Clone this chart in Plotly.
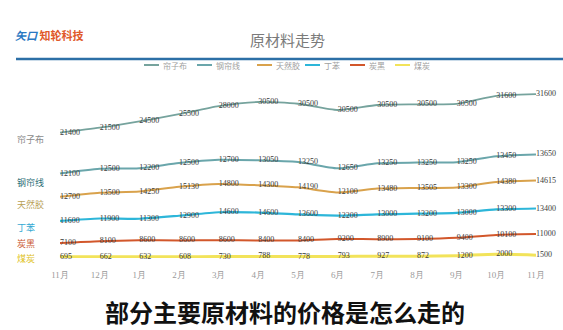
import numpy as np
import plotly.graph_objects as go

months = ["11月", "12月", "1月", "2月", "3月", "4月", "5月", "6月", "7月", "8月", "9月", "10月", "11月"]

# bottom to top stacking order
names = ["煤炭", "炭黑", "丁苯", "天然胶", "钢帘线", "帘子布"]
meitan = [695, 662, 632, 608, 730, 788, 778, 793, 927, 872, 1200, 2000, 1500]
tanhei = [7100, 8100, 8600, 8600, 8600, 8400, 8400, 9200, 8900, 9100, 9400, 10100, 11000]
dingben = [11600, 11900, 11300, 12900, 14600, 14600, 13600, 12200, 13000, 13200, 13000, 13300, 13400]
tianranjiao = [12700, 13500, 14250, 15130, 14800, 14300, 14190, 12100, 13480, 13505, 13300, 14380, 14615]
gangliaxian = [12100, 12500, 12200, 12500, 12700, 13050, 13250, 12650, 13250, 13250, 13250, 13450, 13650]
lianzibu = [21400, 21500, 24500, 25500, 28000, 30500, 30500, 30500, 30500, 30500, 30500, 31600, 31600]

series = [meitan, tanhei, dingben, tianranjiao, gangliaxian, lianzibu]
colors = ["#f2e35a", "#d2572b", "#2db6d9", "#d9a24c", "#6aa6ab", "#76a39d"]
widths = [3, 2, 2.2, 2, 2, 1.8]
label_colors = ["#e0c21c", "#c9552c", "#35a9d3", "#b9a055", "#2f6f78", "#8a8a8a"]

W, H = 563, 330
ML, MR, MT, MB = 0, 0, 86, 72
x = np.arange(len(months))

fig = go.Figure()
cum = np.zeros(len(months))
for name, vals, c, w in zip(names, series, colors, widths):
    cum = cum + np.array(vals)
    fig.add_trace(go.Scatter(
        x=x, y=cum.copy(), mode="lines+text", name=name,
        line=dict(color=c, width=w, shape="spline", smoothing=0.6),
        text=[str(v) for v in vals], textposition="middle right",
        textfont=dict(family="Liberation Serif", size=8, color="#3a3a3a"),
        cliponaxis=False, showlegend=False,
    ))

def px(xp):
    return xp / W

def py(yp):
    return (H - MB - yp) / (H - MT - MB)

annotations = []
# series labels at left
left_y = [258, 243, 227, 204, 182, 139]
for name, yy, lc in zip(names, left_y, label_colors):
    annotations.append(dict(x=px(15), y=py(yy), xref="paper", yref="paper", text=name,
                            showarrow=False, xanchor="left", yanchor="middle",
                            font=dict(family="Noto Sans CJK SC", size=9, color=lc)))

# title
annotations.append(dict(x=px(287), y=py(40), xref="paper", yref="paper", text="原材料走势",
                        showarrow=False, xanchor="center", yanchor="middle",
                        font=dict(family="Noto Sans CJK SC", size=15, color="#7a7a7a")))
# logo
annotations.append(dict(x=px(13), y=py(35), xref="paper", yref="paper",
                        text="<b><i><span style='color:#2a78c2'>矢口</span></i> <span style='color:#e0592a'>知轮科技</span></b>",
                        showarrow=False, xanchor="left", yanchor="middle",
                        font=dict(family="Noto Sans CJK SC", size=11)))
# subtitle
annotations.append(dict(x=px(285), y=py(311), xref="paper", yref="paper",
                        text="<b>部分主要原材料的价格是怎么走的</b>",
                        showarrow=False, xanchor="center", yanchor="middle",
                        font=dict(family="Noto Sans CJK SC", size=24, color="#111111")))

shapes = [dict(type="line", xref="paper", yref="paper", x0=px(16), x1=px(563), y0=py(59), y1=py(59),
               line=dict(color="#2c6fa6", width=2.5))]

# custom legend (top order)
leg_order = ["帘子布", "钢帘线", "天然胶", "丁苯", "炭黑", "煤炭"]
leg_x = [144, 197, 257, 305, 350, 395]
for nm, lx in zip(leg_order, leg_x):
    i = names.index(nm)
    shapes.append(dict(type="line", xref="paper", yref="paper", x0=px(lx), x1=px(lx + 15),
                       y0=py(65), y1=py(65), line=dict(color=colors[i], width=2)))
    annotations.append(dict(x=px(lx + 17), y=py(65), xref="paper", yref="paper", text=nm,
                            showarrow=False, xanchor="left", yanchor="middle",
                            font=dict(family="Noto Sans CJK SC", size=8, color="#a0a0a0")))

x0px, x1px = 60, 536
scale = (x1px - x0px) / (len(months) - 1)
xr = [-(x0px - ML) / scale, (len(months) - 1) + (W - MR - x1px) / scale]

fig.update_layout(
    width=W, height=H,
    margin=dict(l=ML, r=MR, t=MT, b=MB),
    paper_bgcolor="white", plot_bgcolor="white",
    xaxis=dict(range=xr, tickmode="array", tickvals=list(x), ticktext=months,
               showgrid=False, zeroline=False, showline=False,
               ticks="outside", ticklen=8, tickcolor="rgba(0,0,0,0)",
               tickfont=dict(family="Liberation Serif", size=9, color="#9a9a9a")),
    yaxis=dict(range=[0, 90000], visible=False),
    annotations=annotations, shapes=shapes,
    showlegend=False,
)

fig.write_html("out.html")
